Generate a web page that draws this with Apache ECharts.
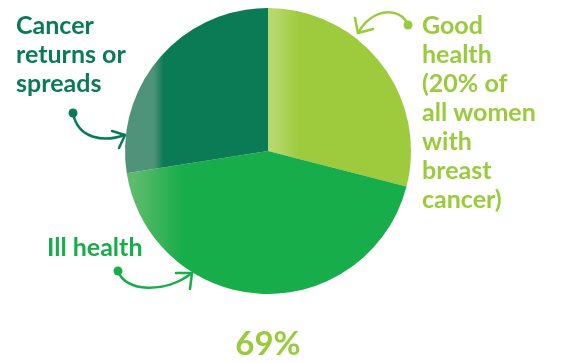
<!DOCTYPE html>
<html><head><meta charset="utf-8">
<script src="https://cdn.jsdelivr.net/npm/echarts@6/dist/echarts.min.js"></script>
<style>html,body{margin:0;padding:0;background:#fff}#c{width:563px;height:362px}</style>
</head><body><div id="c"></div>
<script>
const categories = ['Good health', 'Ill health', 'Cancer returns or spreads'];
const values = [29, 43.5, 27.5];
const labelLines = [
  ['Good', 'health', '(20% of', 'all women', 'with', 'breast', 'cancer)'],
  ['Ill health'],
  ['Cancer', 'returns or', 'spreads']
];
const totalLabel = '69%';

const solid = ['#9dcb3d', '#17ad4a', '#0b7b55'];
const light = ['#b6d86f', '#5cbb6c', '#4f947a'];
const textCol = ['#9acb3c', '#17ad4a', '#0b7b55'];

function grad(i, stopL, stopS) {
  return {type:'linear', x:0, y:0, x2:1, y2:0, colorStops:[
    {offset:0, color:light[i]}, {offset:stopL, color:light[i]},
    {offset:stopS, color:solid[i]}, {offset:1, color:solid[i]}]};
}
const fills = [grad(0, 0.04, 0.22), grad(1, 0.03, 0.2), grad(2, 0.2, 0.27)];

const chart = echarts.init(document.getElementById('c'), null, {renderer:'canvas'});
const FONT = 'Lato';
const lineH = 29;
function textBlock(lines, x, y, color) {
  return {type:'text', x:x, y:y, style:{text:lines.join('\n'), fill:color,
    font:'bold 25px ' + FONT, lineHeight:lineH, textAlign:'left', textVerticalAlign:'top'}};
}
const arrowStyle = (c) => ({stroke:c, lineWidth:2.5, fill:null, lineCap:'round', lineJoin:'round'});
chart.setOption({
  animation:false,
  series:[{
    type:'pie', center:[268,151], radius:[0,143], startAngle:90, clockwise:true,
    label:{show:false}, labelLine:{show:false}, silent:true,
    itemStyle:{borderWidth:0},
    data: categories.map((n,i)=>({name:n, value:values[i], itemStyle:{color:fills[i]}}))
  }],
  graphic:[
    textBlock(labelLines[2], 16, 11, textCol[2]),
    textBlock(labelLines[0], 422, 11, textCol[0]),
    textBlock(labelLines[1], 47, 233, textCol[1]),
    {type:'text', x:268, y:328, style:{text:totalLabel, fill:textCol[0], font:'bold 33px ' + FONT, textAlign:'center', textVerticalAlign:'top'}},
    // Cancer arrow
    {type:'circle', shape:{cx:73, cy:113, r:4.5}, style:{fill:textCol[2]}},
    {type:'bezierCurve', shape:{x1:73, y1:113, cpx1:78, cpy1:140, cpx2:105, cpy2:142, x2:125, y2:135}, style:arrowStyle(textCol[2])},
    {type:'polyline', shape:{points:[[112,131],[125,135],[119,148]]}, style:arrowStyle(textCol[2])},
    // Good health arrow
    {type:'circle', shape:{cx:408, cy:25, r:4.5}, style:{fill:textCol[0]}},
    {type:'bezierCurve', shape:{x1:408, y1:25, cpx1:400, cpy1:6, cpx2:372, cpy2:8, x2:358, y2:33}, style:arrowStyle(textCol[0])},
    {type:'polyline', shape:{points:[[355,18],[358,33],[373,29]]}, style:arrowStyle(textCol[0])},
    // Ill health arrow
    {type:'circle', shape:{cx:118, cy:271, r:4.5}, style:{fill:textCol[1]}},
    {type:'bezierCurve', shape:{x1:118, y1:271, cpx1:125, cpy1:292, cpx2:165, cpy2:294, x2:192, y2:273}, style:arrowStyle(textCol[1])},
    {type:'polyline', shape:{points:[[176,273],[192,273],[190,289]]}, style:arrowStyle(textCol[1])}
  ]
});
</script></body></html>
